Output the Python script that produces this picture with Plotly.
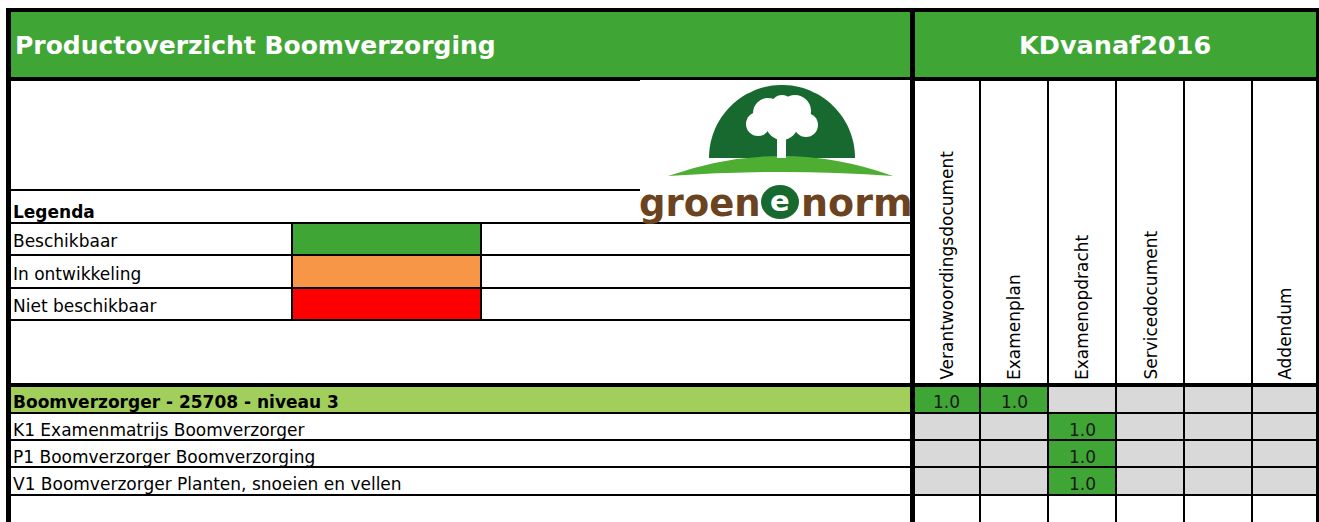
import numpy as np
import plotly.graph_objects as go

# ---- data -------------------------------------------------------------
TITLE = "Productoverzicht Boomverzorging"
QUALIFICATION = "KDvanaf2016"
LEGEND_TITLE = "Legenda"
legend_labels = ["Beschikbaar", "In ontwikkeling", "Niet beschikbaar"]
legend_colors = ["#3FA535", "#F79646", "#FF0000"]

documents = ["Verantwoordingsdocument", "Examenplan", "Examenopdracht",
             "Servicedocument", "", "Addendum"]
products = [
    "Boomverzorger - 25708 - niveau 3",
    "K1 Examenmatrijs Boomverzorger",
    "P1 Boomverzorger Boomverzorging",
    "V1 Boomverzorger Planten, snoeien en vellen",
]
versions = [
    [1.0, 1.0, None, None, None, None],
    [None, None, 1.0, None, None, None],
    [None, None, 1.0, None, None, None],
    [None, None, 1.0, None, None, None],
]

# ---- layout geometry (pixels) ----------------------------------------
W, H = 1319, 522
FONT = "DejaVu Sans"
GREEN = "#3FA535"
LIGHT_GREEN = "#A2CF5B"
GREY = "#D9D9D9"
LOGO_GREEN = "#17692F"
HILL_GREEN = "#4DAE32"
BROWN = "#6B4321"

LEFT, RIGHT, TOP, DIV = 8.5, 1317.5, 10, 912.5
col_edges = [DIV, 980, 1048, 1116, 1184, 1252, RIGHT]
row_edges = [385, 413, 440, 467, 495, 522]
legend_edges = [190, 223, 255, 288, 320]
swatch_x = [292, 481]

fig = go.Figure()
shapes = []
annotations = []


def rect(x0, y0, x1, y1, color):
    shapes.append(dict(type="rect", x0=x0, y0=y0, x1=x1, y1=y1,
                       fillcolor=color, line=dict(width=0), layer="above"))


def line(x0, y0, x1, y1, width=2, color="black"):
    shapes.append(dict(type="line", x0=x0, y0=y0, x1=x1, y1=y1,
                       line=dict(color=color, width=width), layer="above"))


def text(x, y, s, size=17, bold=False, color="black", xanchor="left", angle=0, yanchor="middle"):
    annotations.append(dict(
        x=x, y=y, text=f"<b>{s}</b>" if bold else s, showarrow=False,
        xanchor=xanchor, yanchor=yanchor, textangle=angle,
        font=dict(family=FONT, size=size, color=color)))


# fills
rect(LEFT, TOP, RIGHT, 79, GREEN)
for i, c in enumerate(legend_colors):
    rect(swatch_x[0], legend_edges[i + 1], swatch_x[1], legend_edges[i + 2], c)
rect(LEFT, row_edges[0], DIV, row_edges[1], LIGHT_GREEN)
for r, row in enumerate(versions):
    for c, v in enumerate(row):
        rect(col_edges[c], row_edges[r], col_edges[c + 1], row_edges[r + 1],
             GREEN if v is not None else GREY)

# grid lines
for y in row_edges[1:-1]:
    line(LEFT, y, RIGHT, y, 2)
for x in col_edges[1:-1]:
    line(x, 79, x, H, 2)
line(LEFT, legend_edges[0], 640, legend_edges[0], 2)
for y in legend_edges[1:]:
    line(LEFT, y, DIV, y, 2)
for x in swatch_x:
    line(x, legend_edges[1], x, legend_edges[-1], 2)
line(6, 79, W, 79, 4)
line(6, row_edges[0], W, row_edges[0], 4)
line(6, TOP, W, TOP, 4)
line(LEFT, 8, LEFT, H, 5)
line(DIV, 8, DIV, H, 5)
line(RIGHT, 8, RIGHT, H, 3)

# logo (groenenorm)
rect(640, 80, 910, 216, "white")
cx, cy, r = 782, 158, 73
t = np.linspace(np.pi, 0, 60)
dome = "M " + " L ".join(f"{cx + r * np.cos(a):.1f},{cy - r * np.sin(a):.1f}" for a in t) + " Z"
shapes.append(dict(type="path", path=dome, fillcolor=LOGO_GREEN, line=dict(width=0), layer="above"))
shapes.append(dict(type="path", path="M 668,176 Q 782,136 893,176 Q 782,168 668,176 Z",
                   fillcolor=HILL_GREEN, line=dict(width=0), layer="above"))
for (bx, by, br) in [(768, 113, 15), (795, 111, 16), (758, 124, 12), (806, 125, 12),
                     (782, 124, 16), (782, 106, 11)]:
    shapes.append(dict(type="circle", x0=bx - br, y0=by - br, x1=bx + br, y1=by + br,
                       fillcolor="white", line=dict(width=0), layer="above"))
rect(777, 132, 786, 158, "white")
shapes.append(dict(type="circle", x0=761, y0=185, x1=799, y1=219,
                   fillcolor=LOGO_GREEN, line=dict(width=0), layer="above"))
text(637, 203, "groen", size=37, bold=True, color=BROWN)
text(780, 201, "e", size=29, bold=True, color="white", xanchor="center")
text(799, 203, "norm", size=38, bold=True, color=BROWN)

# texts
text(13, 45, TITLE, size=25, bold=True, color="white")
text((DIV + RIGHT) / 2, 45, QUALIFICATION, size=25.5, bold=True, color="white", xanchor="center")
text(11, 212, LEGEND_TITLE, bold=True)
for i, lab in enumerate(legend_labels):
    text(11, (legend_edges[i + 1] + legend_edges[i + 2]) / 2 + 2, lab)
for r, lab in enumerate(products):
    text(11, (row_edges[r] + row_edges[r + 1]) / 2 + 3, lab, bold=(r == 0))
for c, doc in enumerate(documents):
    if doc:
        text((col_edges[c] + col_edges[c + 1]) / 2, 382, doc,
             xanchor="center", angle=-90, yanchor="bottom")
for r, row in enumerate(versions):
    for c, v in enumerate(row):
        if v is not None:
            text((col_edges[c] + col_edges[c + 1]) / 2, (row_edges[r] + row_edges[r + 1]) / 2 + 3,
                 f"{v:.1f}", size=17, color="#1a1a1a", xanchor="center")

fig.update_layout(
    width=W, height=H,
    margin=dict(l=0, r=0, t=0, b=0),
    paper_bgcolor="white", plot_bgcolor="white",
    xaxis=dict(range=[0, W], visible=False, fixedrange=True),
    yaxis=dict(range=[H, 0], visible=False, fixedrange=True),
    shapes=shapes, annotations=annotations,
    showlegend=False,
)
fig.write_html("out.html", config={"displayModeBar": False},
               post_script="document.body.style.margin='0';document.body.style.overflow='hidden';")
